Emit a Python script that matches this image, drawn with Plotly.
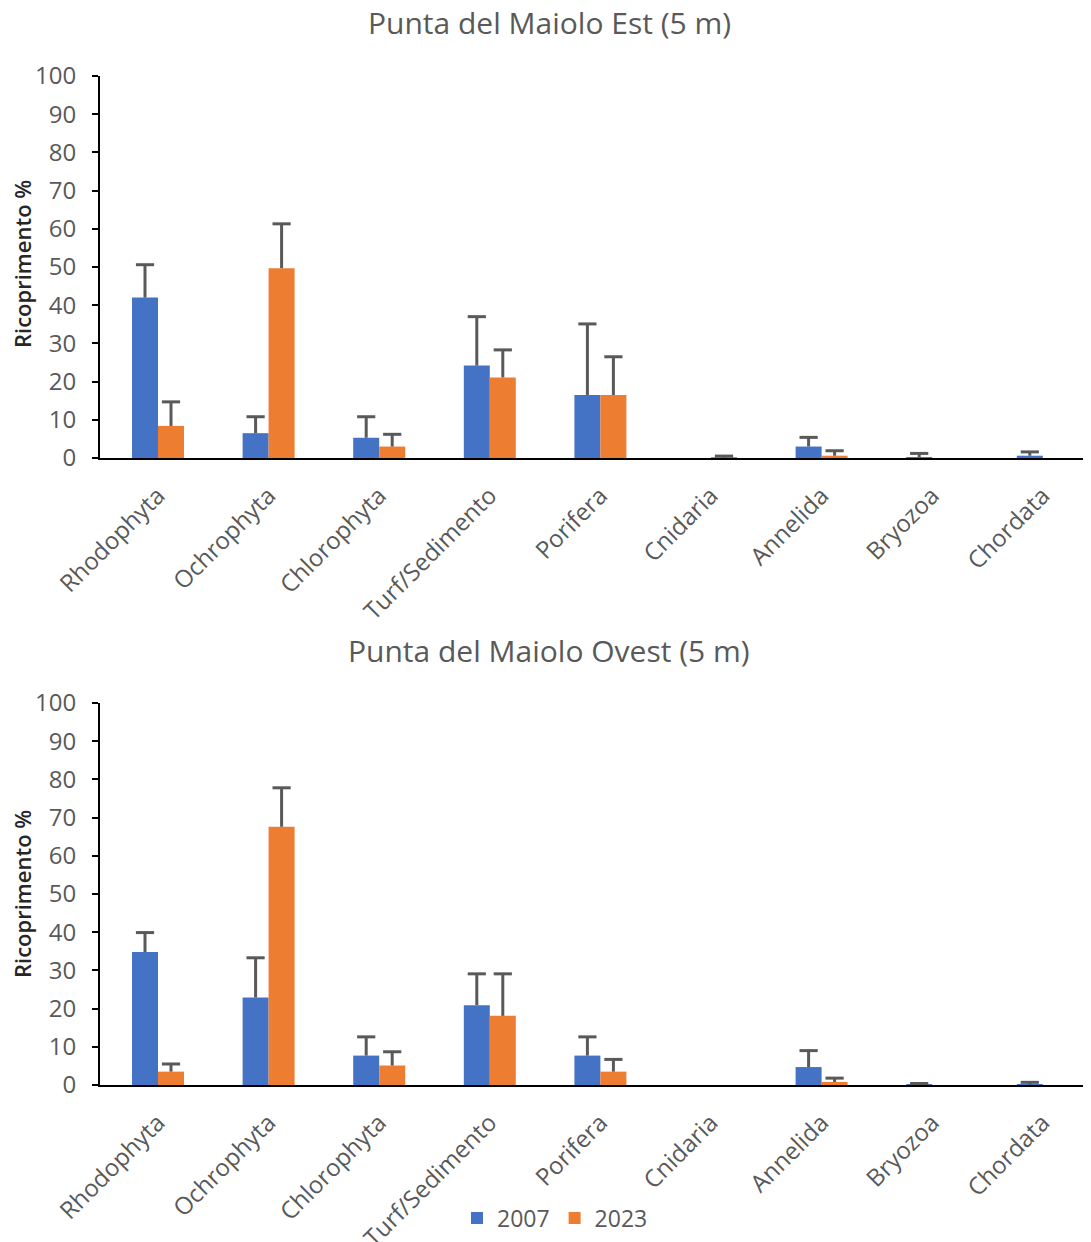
import plotly.graph_objects as go

categories = ["Rhodophyta", "Ochrophyta", "Chlorophyta", "Turf/Sedimento", "Porifera",
              "Cnidaria", "Annelida", "Bryozoa", "Chordata"]
years = ["2007", "2023"]

# Punta del Maiolo Est (5 m)
est_2007 = [42.0, 6.5, 5.3, 24.2, 16.5, 0.0, 3.0, 0.2, 0.6]
est_2007_err = [8.6, 4.3, 5.5, 12.8, 18.6, 0.0, 2.4, 1.0, 1.0]
est_2023 = [8.4, 49.7, 3.0, 21.1, 16.5, 0.1, 0.6, 0.0, 0.0]
est_2023_err = [6.3, 11.6, 3.2, 7.2, 10.0, 0.4, 1.3, 0.0, 0.0]

# Punta del Maiolo Ovest (5 m)
ovest_2007 = [34.8, 22.9, 7.7, 20.9, 7.7, 0.0, 4.7, 0.05, 0.1]
ovest_2007_err = [5.1, 10.4, 4.9, 8.2, 4.9, 0.0, 4.3, 0.35, 0.6]
ovest_2023 = [3.5, 67.6, 5.1, 18.1, 3.5, 0.0, 0.8, 0.0, 0.0]
ovest_2023_err = [2.0, 10.2, 3.6, 11.0, 3.2, 0.0, 1.0, 0.0, 0.0]

titles = ["Punta del Maiolo Est (5 m)", "Punta del Maiolo Ovest (5 m)"]
y_ticks = [0, 10, 20, 30, 40, 50, 60, 70, 80, 90, 100]

colors = ["#4472C4", "#ED7D31"]
ERR_COLOR = "#595959"
TXT = "#595959"
FONT = "Open Sans"

W, H = 1091, 1242
OFF = 8  # page body margin


def px(x):
    return (x - OFF) / W


def py(y):
    return 1 - (y - OFF) / H


fig = go.Figure()

panels = [
    (("x", "y"), [est_2007, est_2023], [est_2007_err, est_2023_err]),
    (("x2", "y2"), [ovest_2007, ovest_2023], [ovest_2007_err, ovest_2023_err]),
]

for p, ((xa, ya), vals, errs) in enumerate(panels):
    for s in range(2):
        fig.add_trace(go.Bar(
            x=categories, y=vals[s], name=years[s], xaxis=xa, yaxis=ya,
            marker=dict(color=colors[s], line=dict(width=0)),
            offsetgroup=str(s), legendgroup=years[s], showlegend=(p == 0),
            error_y=dict(type="data", array=errs[s], arrayminus=[0] * len(errs[s]),
                         symmetric=False, color=ERR_COLOR, thickness=3, width=0),
        ))
        caps = [v + e if e > 0 else None for v, e in zip(vals[s], errs[s])]
        fig.add_trace(go.Scatter(
            x=categories, y=caps, xaxis=xa, yaxis=ya, mode="markers",
            offsetgroup=str(s), orientation="v", showlegend=False, hoverinfo="skip",
            marker=dict(symbol="line-ew", size=13, color=ERR_COLOR,
                        line=dict(color=ERR_COLOR, width=3)),
        ))

x_dom = [px(100), 1.0]
y_doms = [[py(458), py(76)], [py(1085), py(703)]]
right_px = OFF + W
unit = 110.6
xrange = [-(158 - 100) / unit, (right_px - 158) / unit]

axis_common_x = dict(
    type="category", range=xrange, domain=x_dom, showline=True, linecolor="black",
    linewidth=2, ticks="", tickangle=-45, showgrid=False, zeroline=False,
    tickfont=dict(family=FONT, size=24, color=TXT), ticklabelstandoff=12,
    fixedrange=True,
)
axis_common_y = dict(
    range=[0, 100], tickvals=y_ticks, showline=True, linecolor="black", linewidth=2,
    ticks="outside", ticklen=6, tickwidth=2, tickcolor="black", showgrid=False,
    zeroline=False, tickfont=dict(family=FONT, size=24, color=TXT),
    ticklabelstandoff=11, fixedrange=True,
)

fig.update_layout(
    width=W, height=H,
    margin=dict(l=0, r=0, t=0, b=0, autoexpand=False),
    paper_bgcolor="white", plot_bgcolor="white",
    barmode="group", bargap=0.53, bargroupgap=0,
    scattermode="group", scattergap=0.53,
    xaxis=dict(axis_common_x, anchor="y"),
    yaxis=dict(axis_common_y, domain=y_doms[0], anchor="x"),
    xaxis2=dict(axis_common_x, anchor="y2"),
    yaxis2=dict(axis_common_y, domain=y_doms[1], anchor="x2"),
    legend=dict(orientation="h", x=px(555), y=py(1218), xanchor="center",
                yanchor="middle", font=dict(family=FONT, size=23, color=TXT),
                bgcolor="rgba(0,0,0,0)", itemwidth=30),
    font=dict(family=FONT),
)

title_y = [22, 650]
ylab_y = [264, 894]
for i in range(2):
    fig.add_annotation(text=titles[i], xref="paper", yref="paper",
                       x=px(549), y=py(title_y[i]), xanchor="center", yanchor="middle",
                       showarrow=False, font=dict(family=FONT, size=30, color=TXT))
    fig.add_annotation(text="Ricoprimento %", xref="paper", yref="paper",
                       x=px(22), y=py(ylab_y[i]), xanchor="center", yanchor="middle",
                       textangle=-90, showarrow=False,
                       font=dict(family=FONT, size=22, color="#262626", weight=600))

fig.write_html("out.html")
